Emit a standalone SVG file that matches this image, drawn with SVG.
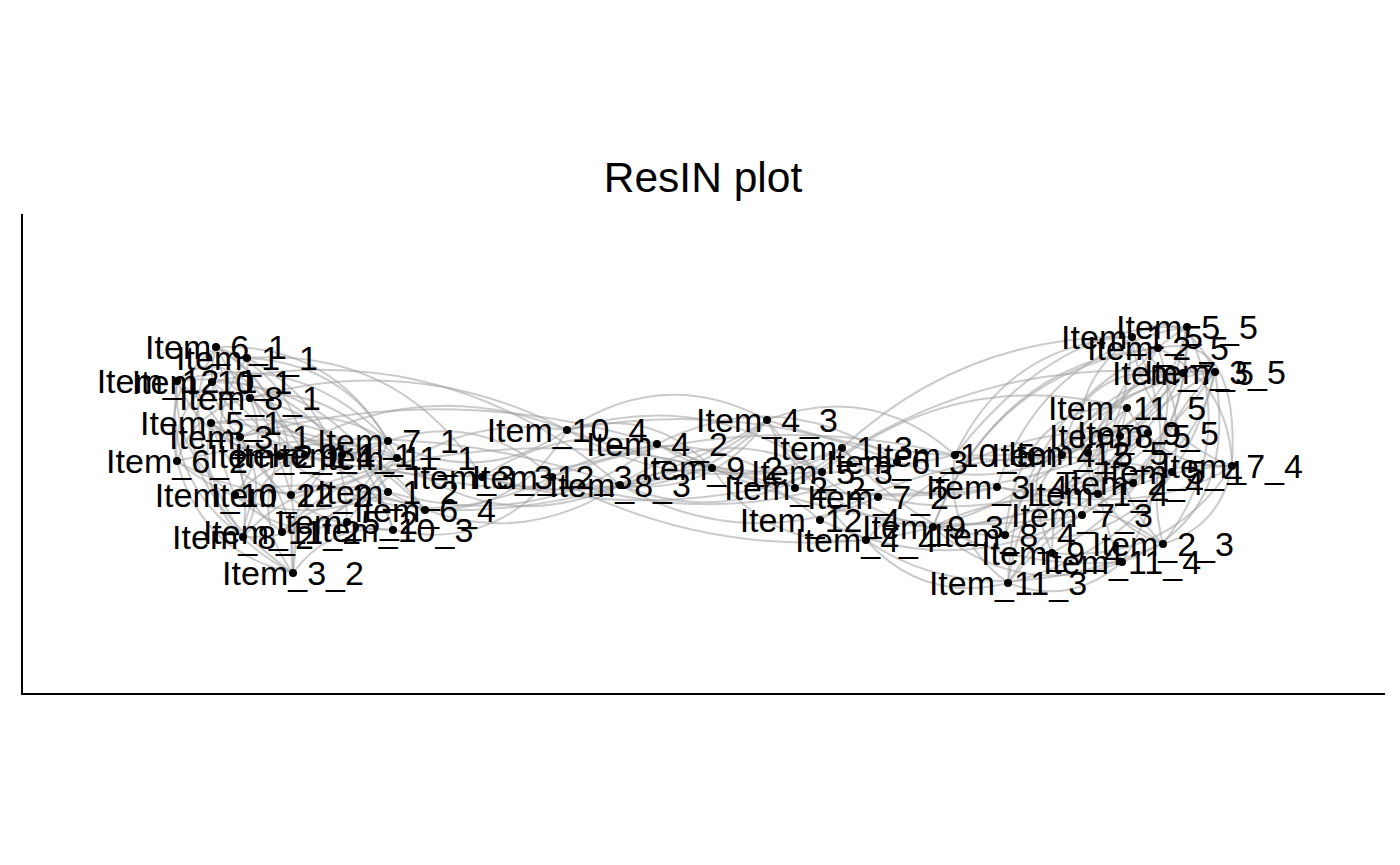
<svg xmlns="http://www.w3.org/2000/svg" width="1400" height="865" viewBox="0 0 1400 865">
<style>
.e{fill:none;stroke:#a0a0a0;stroke-opacity:.55;stroke-width:2}
.n circle{fill:#000}
.n text{font-family:"Liberation Sans",Arial,sans-serif;font-size:34px;text-anchor:middle;fill:#000}
.ax{stroke:#000;stroke-width:2;fill:none}
</style>
<rect width="1400" height="865" fill="#fff"/>
<text x="703" y="192" font-family="Liberation Sans, Arial, sans-serif" font-size="42.5" text-anchor="middle">ResIN plot</text>
<g id="axes">
<line class="ax" x1="22" y1="214" x2="22" y2="695"/>
<line class="ax" x1="21" y1="694" x2="1385" y2="694"/>
</g>
<g id="edges">
<path class="e" d="M216 347 Q201 399 240 437"/>
<path class="e" d="M247 358 Q200 423 235 495"/>
<path class="e" d="M177 381 Q206 450 280 456"/>
<path class="e" d="M212 382 Q255 457 342 455"/>
<path class="e" d="M250 398 Q195 408 177 461"/>
<path class="e" d="M211 423 Q294 485 388 441"/>
<path class="e" d="M240 437 Q232 497 282 532"/>
<path class="e" d="M216 347 Q273 457 397 458"/>
<path class="e" d="M397 458 Q352 363 247 358"/>
<path class="e" d="M388 441 Q300 348 177 381"/>
<path class="e" d="M305 455 Q293 374 216 347"/>
<path class="e" d="M342 455 Q282 368 177 381"/>
<path class="e" d="M235 495 Q272 451 250 398"/>
<path class="e" d="M293 573 Q297 473 211 423"/>
<path class="e" d="M293 573 Q310 453 212 382"/>
<path class="e" d="M243 537 Q271 486 240 437"/>
<path class="e" d="M243 537 Q257 439 177 381"/>
<path class="e" d="M177 461 Q201 552 293 573"/>
<path class="e" d="M177 461 Q273 540 388 492"/>
<path class="e" d="M291 495 Q298 398 216 347"/>
<path class="e" d="M347 522 Q346 410 247 358"/>
<path class="e" d="M388 492 Q333 384 212 382"/>
<path class="e" d="M393 530 Q361 421 250 398"/>
<path class="e" d="M425 510 Q344 402 211 423"/>
<path class="e" d="M282 532 Q362 518 388 441"/>
<path class="e" d="M280 456 Q251 518 293 573"/>
<path class="e" d="M305 455 Q249 477 243 537"/>
<path class="e" d="M342 455 Q282 499 293 573"/>
<path class="e" d="M235 495 Q283 542 347 522"/>
<path class="e" d="M247 358 Q247 424 305 455"/>
<path class="e" d="M216 347 Q218 383 250 398"/>
<path class="e" d="M177 381 Q172 455 235 495"/>
<path class="e" d="M212 382 Q171 411 177 461"/>
<path class="e" d="M211 423 Q229 483 291 495"/>
<path class="e" d="M240 437 Q289 529 393 530"/>
<path class="e" d="M388 441 Q315 395 240 437"/>
<path class="e" d="M397 458 Q305 428 235 495"/>
<path class="e" d="M388 492 Q302 471 243 537"/>
<path class="e" d="M425 510 Q347 478 282 532"/>
<path class="e" d="M393 530 Q330 522 293 573"/>
<path class="e" d="M250 398 Q306 461 388 441"/>
<path class="e" d="M211 423 Q248 467 305 455"/>
<path class="e" d="M177 381 Q163 479 243 537"/>
<path class="e" d="M177 461 Q288 526 397 458"/>
<path class="e" d="M280 456 Q281 382 216 347"/>
<path class="e" d="M388 441 Q330 342 216 347"/>
<path class="e" d="M216 347 Q170 420 243 537"/>
<path class="e" d="M212 382 Q150 470 293 573"/>
<path class="e" d="M250 398 Q320 380 397 458"/>
<path class="e" d="M177 381 Q230 330 305 455"/>
<path class="e" d="M240 437 Q330 410 425 510"/>
<path class="e" d="M211 423 Q190 520 293 573"/>
<path class="e" d="M280 456 Q340 420 388 492"/>
<path class="e" d="M305 455 Q380 480 393 530"/>
<path class="e" d="M342 455 Q260 420 211 423"/>
<path class="e" d="M397 458 Q330 540 243 537"/>
<path class="e" d="M291 495 Q360 430 397 458"/>
<path class="e" d="M235 495 Q320 470 425 510"/>
<path class="e" d="M177 461 Q160 390 216 347"/>
<path class="e" d="M280 456 Q410 548 552 477"/>
<path class="e" d="M552 477 Q481 410 388 441"/>
<path class="e" d="M482 477 Q400 347 247 358"/>
<path class="e" d="M620 485 Q442 332 212 382"/>
<path class="e" d="M388 492 Q506 558 620 485"/>
<path class="e" d="M567 430 Q429 410 347 522"/>
<path class="e" d="M425 510 Q520 513 567 430"/>
<path class="e" d="M657 444 Q450 378 240 437"/>
<path class="e" d="M305 455 Q483 502 657 444"/>
<path class="e" d="M567 430 Q415 351 250 398"/>
<path class="e" d="M620 485 Q402 407 177 461"/>
<path class="e" d="M482 477 Q365 444 282 532"/>
<path class="e" d="M393 530 Q488 551 552 477"/>
<path class="e" d="M342 455 Q525 517 712 468"/>
<path class="e" d="M712 468 Q497 418 291 495"/>
<path class="e" d="M552 477 Q676 513 767 420"/>
<path class="e" d="M567 430 Q700 508 842 448"/>
<path class="e" d="M767 420 Q664 365 567 430"/>
<path class="e" d="M620 485 Q746 555 878 497"/>
<path class="e" d="M795 488 Q677 410 552 477"/>
<path class="e" d="M657 444 Q748 502 842 448"/>
<path class="e" d="M712 468 Q594 404 482 477"/>
<path class="e" d="M897 462 Q782 381 657 444"/>
<path class="e" d="M820 520 Q730 442 620 485"/>
<path class="e" d="M822 472 Q705 387 567 430"/>
<path class="e" d="M767 420 Q818 523 933 527"/>
<path class="e" d="M712 468 Q767 550 866 540"/>
<path class="e" d="M842 448 Q908 514 997 487"/>
<path class="e" d="M955 455 Q872 381 767 420"/>
<path class="e" d="M767 420 Q857 537 1005 535"/>
<path class="e" d="M552 477 Q727 538 897 462"/>
<path class="e" d="M482 477 Q639 520 767 420"/>
<path class="e" d="M620 485 Q713 497 767 420"/>
<path class="e" d="M388 492 Q535 535 657 444"/>
<path class="e" d="M388 441 Q481 489 567 430"/>
<path class="e" d="M567 430 Q417 371 280 456"/>
<path class="e" d="M397 458 Q500 538 620 485"/>
<path class="e" d="M712 468 Q651 405 567 430"/>
<path class="e" d="M767 420 Q955 484 1148 433"/>
<path class="e" d="M1132 337 Q965 334 842 448"/>
<path class="e" d="M567 430 Q757 501 955 455"/>
<path class="e" d="M712 468 Q890 547 1082 515"/>
<path class="e" d="M552 477 Q700 556 866 540"/>
<path class="e" d="M657 444 Q821 517 997 487"/>
<path class="e" d="M822 472 Q717 418 620 485"/>
<path class="e" d="M425 510 Q610 516 767 420"/>
<path class="e" d="M795 488 Q980 514 1148 433"/>
<path class="e" d="M955 455 Q750 406 552 477"/>
<path class="e" d="M897 462 Q737 397 567 430"/>
<path class="e" d="M822 472 Q824 519 866 540"/>
<path class="e" d="M482 477 Q653 526 822 472"/>
<path class="e" d="M620 485 Q742 533 842 448"/>
<path class="e" d="M1062 455 Q1163 428 1187 327"/>
<path class="e" d="M1187 327 Q1044 350 997 487"/>
<path class="e" d="M1132 337 Q1143 432 1232 466"/>
<path class="e" d="M1232 466 Q1230 385 1158 348"/>
<path class="e" d="M1215 372 Q1137 442 1163 544"/>
<path class="e" d="M1163 544 Q1240 443 1187 327"/>
<path class="e" d="M1183 373 Q1032 425 1008 583"/>
<path class="e" d="M1008 583 Q1175 540 1215 372"/>
<path class="e" d="M1127 408 Q1078 483 1122 562"/>
<path class="e" d="M1122 562 Q1194 452 1132 337"/>
<path class="e" d="M1052 553 Q1187 480 1187 327"/>
<path class="e" d="M1158 348 Q992 370 933 527"/>
<path class="e" d="M933 527 Q1104 525 1183 373"/>
<path class="e" d="M1005 535 Q1128 474 1132 337"/>
<path class="e" d="M1215 372 Q1061 391 1005 535"/>
<path class="e" d="M1127 408 Q1104 487 1163 544"/>
<path class="e" d="M1082 515 Q1191 453 1187 327"/>
<path class="e" d="M1158 348 Q1013 421 1008 583"/>
<path class="e" d="M1098 494 Q1193 468 1215 372"/>
<path class="e" d="M955 455 Q1094 482 1183 373"/>
<path class="e" d="M1088 453 Q1098 521 1163 544"/>
<path class="e" d="M1120 436 Q1051 474 1052 553"/>
<path class="e" d="M1148 433 Q980 416 866 540"/>
<path class="e" d="M866 540 Q1060 517 1158 348"/>
<path class="e" d="M1232 466 Q1085 457 1008 583"/>
<path class="e" d="M1008 583 Q1071 607 1122 562"/>
<path class="e" d="M1163 544 Q1053 466 933 527"/>
<path class="e" d="M933 527 Q1017 601 1122 562"/>
<path class="e" d="M1172 472 Q986 426 820 520"/>
<path class="e" d="M820 520 Q952 583 1082 515"/>
<path class="e" d="M1183 373 Q966 353 795 488"/>
<path class="e" d="M997 487 Q1089 505 1148 433"/>
<path class="e" d="M897 462 Q1028 504 1127 408"/>
<path class="e" d="M1127 408 Q958 364 822 472"/>
<path class="e" d="M842 448 Q953 575 1122 562"/>
<path class="e" d="M1052 553 Q1168 564 1232 466"/>
<path class="e" d="M1172 472 Q1192 392 1132 337"/>
<path class="e" d="M1133 483 Q1186 423 1158 348"/>
<path class="e" d="M1088 453 Q1175 420 1187 327"/>
<path class="e" d="M955 455 Q943 535 1008 583"/>
<path class="e" d="M878 497 Q1029 532 1148 433"/>
<path class="e" d="M866 540 Q924 604 1008 583"/>
<path class="e" d="M1215 372 Q1114 368 1062 455"/>
<path class="e" d="M1187 327 Q1093 384 1098 494"/>
<path class="e" d="M1127 408 Q1162 469 1232 466"/>
<path class="e" d="M933 527 Q1113 520 1215 372"/>
<path class="e" d="M1005 535 Q1108 554 1172 472"/>
<path class="e" d="M1132 337 Q1008 343 955 455"/>
<path class="e" d="M1163 544 Q1221 526 1232 466"/>
<path class="e" d="M1132 337 Q1180 300 1215 372"/>
<path class="e" d="M1158 348 Q1240 330 1232 466"/>
<path class="e" d="M1062 455 Q1080 360 1183 373"/>
<path class="e" d="M1088 453 Q1120 360 1215 372"/>
<path class="e" d="M933 527 Q1000 360 1158 348"/>
<path class="e" d="M1008 583 Q1100 470 1232 466"/>
<path class="e" d="M997 487 Q1150 520 1232 466"/>
<path class="e" d="M1122 562 Q1240 520 1215 372"/>
<path class="e" d="M955 455 Q1060 320 1187 327"/>
<path class="e" d="M1082 515 Q1120 420 1215 372"/>
<path class="e" d="M1005 535 Q1020 400 1127 408"/>
<path class="e" d="M866 540 Q980 620 1163 544"/>
<path class="e" d="M1098 494 Q1050 400 1132 337"/>
<path class="e" d="M1052 553 Q1000 430 1120 436"/>
</g>
<g id="n6_1" class="n"><circle cx="216" cy="347" r="4"/><text x="216" y="359">Item_6_1</text></g>
<g id="n1_1" class="n"><circle cx="247" cy="358" r="4"/><text x="247" y="370">Item_1_1</text></g>
<g id="n12_1" class="n"><circle cx="177" cy="381" r="4"/><text x="177" y="393">Item_12_1</text></g>
<g id="n10_1" class="n"><circle cx="212" cy="382" r="4"/><text x="212" y="394">Item_10_1</text></g>
<g id="n8_1" class="n"><circle cx="250" cy="398" r="4"/><text x="250" y="410">Item_8_1</text></g>
<g id="n5_1" class="n"><circle cx="211" cy="423" r="4"/><text x="211" y="435">Item_5_1</text></g>
<g id="n3_1" class="n"><circle cx="240" cy="437" r="4"/><text x="240" y="449">Item_3_1</text></g>
<g id="n2_1" class="n"><circle cx="280" cy="456" r="4"/><text x="280" y="468">Item_2_1</text></g>
<g id="n9_1" class="n"><circle cx="305" cy="455" r="4"/><text x="305" y="467">Item_9_1</text></g>
<g id="n4_1" class="n"><circle cx="342" cy="455" r="4"/><text x="342" y="467">Item_4_1</text></g>
<g id="n7_1" class="n"><circle cx="388" cy="441" r="4"/><text x="388" y="453">Item_7_1</text></g>
<g id="n11_1" class="n"><circle cx="397" cy="458" r="4"/><text x="397" y="470">Item_11_1</text></g>
<g id="n6_2" class="n"><circle cx="177" cy="461" r="4"/><text x="177" y="473">Item_6_2</text></g>
<g id="n10_2" class="n"><circle cx="235" cy="495" r="4"/><text x="235" y="507">Item_10_2</text></g>
<g id="n12_2" class="n"><circle cx="291" cy="495" r="4"/><text x="291" y="507">Item_12_2</text></g>
<g id="n1_2" class="n"><circle cx="388" cy="492" r="4"/><text x="388" y="504">Item_1_2</text></g>
<g id="n6_4" class="n"><circle cx="425" cy="510" r="4"/><text x="425" y="522">Item_6_4</text></g>
<g id="n5_2" class="n"><circle cx="347" cy="522" r="4"/><text x="347" y="534">Item_5_2</text></g>
<g id="n11_2" class="n"><circle cx="282" cy="532" r="4"/><text x="282" y="544">Item_11_2</text></g>
<g id="n8_2" class="n"><circle cx="243" cy="537" r="4"/><text x="243" y="549">Item_8_2</text></g>
<g id="n10_3" class="n"><circle cx="393" cy="530" r="4"/><text x="393" y="542">Item_10_3</text></g>
<g id="n3_2" class="n"><circle cx="293" cy="573" r="4"/><text x="293" y="585">Item_3_2</text></g>
<g id="n3_3" class="n"><circle cx="482" cy="477" r="4"/><text x="482" y="489">Item_3_3</text></g>
<g id="n12_3" class="n"><circle cx="552" cy="477" r="4"/><text x="552" y="489">Item_12_3</text></g>
<g id="n10_4" class="n"><circle cx="567" cy="430" r="4"/><text x="567" y="442">Item_10_4</text></g>
<g id="n4_2" class="n"><circle cx="657" cy="444" r="4"/><text x="657" y="456">Item_4_2</text></g>
<g id="n8_3" class="n"><circle cx="620" cy="485" r="4"/><text x="620" y="497">Item_8_3</text></g>
<g id="n9_2" class="n"><circle cx="712" cy="468" r="4"/><text x="712" y="480">Item_9_2</text></g>
<g id="n4_3" class="n"><circle cx="767" cy="420" r="4"/><text x="767" y="432">Item_4_3</text></g>
<g id="n1_3" class="n"><circle cx="842" cy="448" r="4"/><text x="842" y="460">Item_1_3</text></g>
<g id="n5_3" class="n"><circle cx="822" cy="472" r="4"/><text x="822" y="484">Item_5_3</text></g>
<g id="n6_3" class="n"><circle cx="897" cy="462" r="4"/><text x="897" y="474">Item_6_3</text></g>
<g id="n2_2" class="n"><circle cx="795" cy="488" r="4"/><text x="795" y="500">Item_2_2</text></g>
<g id="n7_2" class="n"><circle cx="878" cy="497" r="4"/><text x="878" y="509">Item_7_2</text></g>
<g id="n12_4" class="n"><circle cx="820" cy="520" r="4"/><text x="820" y="532">Item_12_4</text></g>
<g id="n4_4" class="n"><circle cx="866" cy="540" r="4"/><text x="866" y="552">Item_4_4</text></g>
<g id="n9_3" class="n"><circle cx="933" cy="527" r="4"/><text x="933" y="539">Item_9_3</text></g>
<g id="n10_5" class="n"><circle cx="955" cy="455" r="4"/><text x="955" y="467">Item_10_5</text></g>
<g id="n4_5" class="n"><circle cx="1062" cy="455" r="4"/><text x="1062" y="467">Item_4_5</text></g>
<g id="n12_5" class="n"><circle cx="1088" cy="453" r="4"/><text x="1088" y="465">Item_12_5</text></g>
<g id="n3_4" class="n"><circle cx="997" cy="487" r="4"/><text x="997" y="499">Item_3_4</text></g>
<g id="n8_4" class="n"><circle cx="1005" cy="535" r="4"/><text x="1005" y="547">Item_8_4</text></g>
<g id="n9_4" class="n"><circle cx="1052" cy="553" r="4"/><text x="1052" y="565">Item_9_4</text></g>
<g id="n11_3" class="n"><circle cx="1008" cy="583" r="4"/><text x="1008" y="595">Item_11_3</text></g>
<g id="n7_3" class="n"><circle cx="1082" cy="515" r="4"/><text x="1082" y="527">Item_7_3</text></g>
<g id="n1_4" class="n"><circle cx="1098" cy="494" r="4"/><text x="1098" y="506">Item_1_4</text></g>
<g id="n2_4" class="n"><circle cx="1133" cy="483" r="4"/><text x="1133" y="495">Item_2_4</text></g>
<g id="n5_4" class="n"><circle cx="1172" cy="472" r="4"/><text x="1172" y="484">Item_5_4</text></g>
<g id="n7_4" class="n"><circle cx="1232" cy="466" r="4"/><text x="1232" y="478">Item_7_4</text></g>
<g id="n2_3" class="n"><circle cx="1163" cy="544" r="4"/><text x="1163" y="556">Item_2_3</text></g>
<g id="n11_4" class="n"><circle cx="1122" cy="562" r="4"/><text x="1122" y="574">Item_11_4</text></g>
<g id="n8_5" class="n"><circle cx="1120" cy="436" r="4"/><text x="1120" y="448">Item_8_5</text></g>
<g id="n9_5" class="n"><circle cx="1148" cy="433" r="4"/><text x="1148" y="445">Item_9_5</text></g>
<g id="n11_5" class="n"><circle cx="1127" cy="408" r="4"/><text x="1127" y="420">Item_11_5</text></g>
<g id="n7_5" class="n"><circle cx="1183" cy="373" r="4"/><text x="1183" y="385">Item_7_5</text></g>
<g id="n3_5" class="n"><circle cx="1215" cy="372" r="4"/><text x="1215" y="384">Item_3_5</text></g>
<g id="n2_5" class="n"><circle cx="1158" cy="348" r="4"/><text x="1158" y="360">Item_2_5</text></g>
<g id="n1_5" class="n"><circle cx="1132" cy="337" r="4"/><text x="1132" y="349">Item_1_5</text></g>
<g id="n5_5" class="n"><circle cx="1187" cy="327" r="4"/><text x="1187" y="339">Item_5_5</text></g>
</svg>
